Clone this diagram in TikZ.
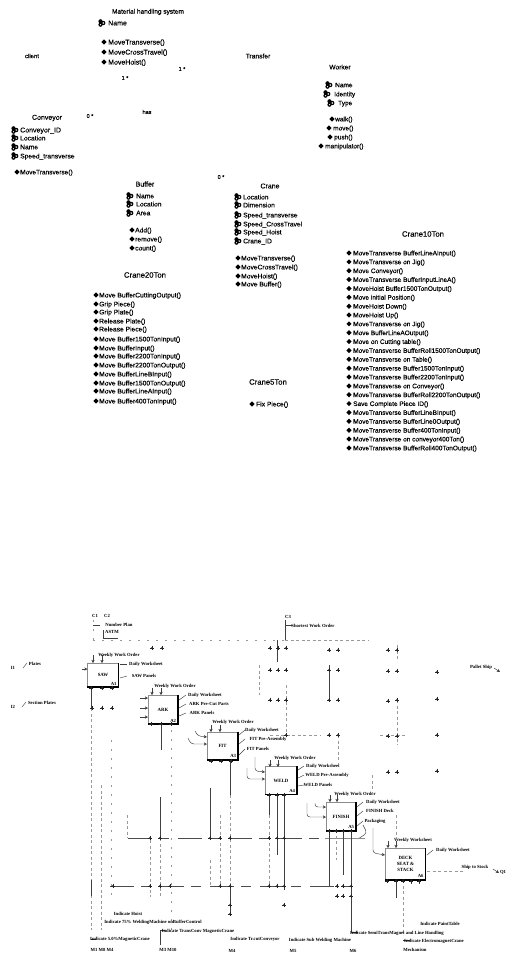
\documentclass[tikz,border=0pt]{standalone}
\usepackage{fontspec}
\setmainfont{Liberation Sans}[FakeBold=0.25]
\newfontfamily\idefont{Liberation Serif}
\usetikzlibrary{arrows.meta}
\newcounter{tcnt}
\newcommand{\umlsize}{\fontsize{7}{8}\selectfont}
\newcommand{\fsm}{\fontsize{6.5}{7}\selectfont}
\newcommand{\fmd}{\fontsize{6.7}{7}\selectfont}
\newcommand{\fti}{\fontsize{7}{8}\selectfont}
\newcommand{\fbg}{\fontsize{7.7}{8}\selectfont}
% text line of a class, left aligned
\newcommand{\ctext}[4][\umlsize]{\stepcounter{tcnt}\node[txt,font=#1] (t\thetcnt) at (#2,#3) {#4};}
% attribute: icon and text
\newcommand{\attr}[5][\umlsize]{\fill (#2-1.5,#4-1.7) circle (2.1);\fill (#2+1.2,#4) circle (2.2);
  \fill[white] (#2+1.2,#4) circle (.8);\fill (#2-1.5,#4+1.7) circle (2.1);\fill[white] (#2-1.5,#4+1.7) circle (.7);
  \ctext[#1]{#3}{#4}{#5}}
% method: diamond and text
\newcommand{\meth}[5][\umlsize]{\fill (#2-2.6,#4) -- (#2,#4-2.6) -- (#2+2.6,#4) -- (#2,#4+2.6) -- cycle;
  \ctext[#1]{#3}{#4}{#5}}
\newcommand{\ctitle}[4][\umlsize]{\stepcounter{tcnt}\node[font=#1,inner sep=0pt] (t\thetcnt) at (#2,#3) {#4};}
% IDEF0 label
\newcommand{\lab}[3]{\stepcounter{tcnt}\node[idf] (t\thetcnt) at (#1,#2) {#3};}
% connector between two named end points
\newcommand{\conn}[6][wire]{\stepcounter{tcnt}\coordinate (p\thetcnt) at (#2,#3);\coordinate (q\thetcnt) at (#4,#5);\draw[#1,#6] (p\thetcnt) -- (q\thetcnt);}
% rounded feed: down from one named point, across into another
\newcommand{\elbow}[6]{\stepcounter{tcnt}\coordinate (p\thetcnt) at (#1,#2);\coordinate (m\thetcnt) at (#3,#4);\coordinate (q\thetcnt) at (#5,#6);\draw[wire,tip,rounded corners=3pt] (p\thetcnt) -- (m\thetcnt) -- (q\thetcnt);}
\newcommand{\mk}[2]{\draw[black!85,line width=.45pt] (#1-1.8,#2) -- (#1+1.8,#2) (#1,#2-2.3) -- (#1,#2+2.3);\fill[black!85] (#1-1,#2-.7) -- (#1+1,#2-.7) -- (#1,#2+1.2) -- cycle;}
\tikzset{
  txt/.style={anchor=west,inner sep=0pt,text depth=0pt},
  idf/.style={inner sep=0pt,font=\idefont\bfseries\fontsize{4.7}{5}\selectfont},
  boxn/.style={inner sep=0pt,minimum width=32pt,minimum height=27pt,font=\idefont\bfseries\fontsize{4.8}{6}\selectfont,align=center},
  wire/.style={line width=.45pt,black!75},
  bus/.style={line width=.5pt,black!70,dash pattern=on 24pt off 7pt on 10pt off 9pt},
  faint/.style={line width=.5pt,black!40,dash pattern=on 3pt off 2.5pt},
  sparse/.style={line width=.5pt,black!40,dash pattern=on 2pt off 7pt},
  tip/.style={-{Stealth[length=3.2pt,width=3.2pt]}}
}
\begin{document}
\begin{tikzpicture}[x=1pt,y=-1pt]
\useasboundingbox (0,0) rectangle (507,953);
% ---- class diagram ----
\ctitle[\fsm]{148}{12}{Material handling system}
\attr{102}{108}{23}{Name}
\meth{104}{108}{42}{MoveTransverse()}
\meth{104}{108}{52}{MoveCrossTravel()}
\meth{104}{108}{62}{MoveHoist()}
\ctitle[\fontsize{5.5}{6}\selectfont]{182}{69}{1 *}
\ctitle[\fontsize{5.5}{6}\selectfont]{125}{78}{1 *}
\ctitle[\fontsize{6}{6}\selectfont]{32}{56}{client}
\ctitle[\fmd]{258}{56}{Transfer}
\ctitle[\fontsize{5.5}{6}\selectfont]{147}{112}{has}
\ctitle[\fontsize{5.5}{6}\selectfont]{90}{116}{0 *}
\ctitle[\fontsize{5.5}{6}\selectfont]{221}{177}{0 *}
\ctitle[\fti]{47}{118}{Conveyor}
\attr[\fontsize{7}{8}\selectfont]{15}{20}{130}{Conveyor\_ID}
\attr[\fmd]{15}{20}{138}{Location}
\attr[\fmd]{15}{20}{147}{Name}
\attr[\fmd]{15}{20}{156}{Speed\_transverse}
\meth[\fsm]{17}{20}{172}{MoveTransverse()}
\ctitle[\fmd]{340}{67}{Worker}
\attr[\fsm]{329}{335}{85}{Name}
\attr[\fsm]{327}{334}{94}{Identity}
\attr[\fsm]{331}{338}{103}{Type}
\meth[\fsm]{332}{335}{119}{walk()}
\meth[\fsm]{329}{333}{128}{move()}
\meth[\fsm]{330}{334}{137}{push()}
\meth[\fsm]{321}{325}{146}{manipulator()}
\ctitle[\fti]{145}{184}{Buffer}
\attr[\fmd]{130}{136}{196}{Name}
\attr[\fmd]{130}{136}{204}{Location}
\attr[\fmd]{130}{136}{213}{Area}
\meth[\fmd]{132}{135}{230}{Add()}
\meth[\fmd]{132}{135}{239}{remove()}
\meth[\fmd]{132}{135}{248}{count()}
\ctitle[\fti]{270}{186}{Crane}
\attr[\fmd]{238}{243}{197}{Location}
\attr[\fmd]{238}{243}{205}{Dimension}
\attr[\fmd]{238}{243}{215}{Speed\_transverse}
\attr[\fmd]{238}{243}{224}{Speed\_CrossTravel}
\attr[\fmd]{238}{243}{232}{Speed\_Hoist}
\attr[\fmd]{238}{243}{241}{Crane\_ID}
\meth[\fmd]{238}{241}{258}{MoveTransverse()}
\meth[\fmd]{238}{241}{267}{MoveCrossTravel()}
\meth[\fmd]{238}{241}{276}{MoveHoist()}
\meth[\fmd]{238}{241}{284}{Move Buffer()}
\ctitle[\fbg]{145}{275}{Crane20Ton}
\foreach \yy/\ltx in {295/Move BufferCuttingOutput(),304/Grip Piece(),312/Grip Plate(),321/Release Plate(),329/Release Piece(),339/Move Buffer1500TonInput(),348/Move BufferInput(),356/Move Buffer2200TonInput(),365/Move Buffer2200TonOutput(),374/Move BufferLineBInput(),383/Move Buffer1500TonOutput(),391/Move BufferLineAInput(),401/Move Buffer400TonInput()}{
  \meth[\fmd]{96}{99}{\yy}{\ltx}
}
\ctitle[\fbg]{268}{382}{Crane5Ton}
\meth[\fmd]{252}{256}{404}{Fix Piece()}
\ctitle[\fbg]{423}{234}{Crane10Ton}
\foreach \ii/\ltx in {0/MoveTransverse BufferLineAInput(),1/MoveTransverse on Jig(),2/Move Conveyor(),3/MoveTransverse BufferInputLineA(),4/MoveHoist Buffer1500TonOutput(),5/Move initial Position(),6/MoveHoist Down(),7/MoveHoist Up(),8/MoveTransverse on Jig(),9/Move BufferLineAOutput(),10/Move on Cutting table(),11/MoveTransverse BufferRoll1500TonOutput(),12/MoveTransverse on Table(),13/MoveTransverse Buffer1500TonInput(),14/MoveTransverse Buffer2200TonInput(),15/MoveTransverse on Conveyor(),16/MoveTransverse BufferRoll2200TonOutput(),17/Save Complete Piece ID(),18/MoveTransverse BufferLineBInput(),19/MoveTransverse BufferLine0Output(),20/MoveTransverse Buffer400TonInput(),21/MoveTransverse on conveyor400Ton(),22/MoveTransverse BufferRoll400TonOutput()}{
  \pgfmathsetmacro{\yy}{253+8.86*\ii}
  \meth[\fsm]{349}{353}{\yy}{\ltx}
}
% ---- activity boxes ----
\node[boxn,minimum width=31pt,minimum height=24pt] (a1) at (103,675) {SAW};
\node[boxn,minimum width=30pt,minimum height=29pt] (a2) at (163,709.5) {ARK};
\node[boxn,minimum width=31pt,minimum height=28pt] (a3) at (222.5,746) {FIT};
\node[boxn,minimum width=32pt,minimum height=28pt] (a4) at (281,780.5) {WELD};
\node[boxn,minimum width=30pt,minimum height=29pt] (a5) at (341,816.5) {FINISH};
\node[boxn,minimum width=40pt,minimum height=32pt] (a6) at (405.5,864) {DECK\\SEAT \&\\STACK};
\foreach \b/\n in {a1/A1,a2/A2,a3/A3,a4/A4,a5/A5,a6/A6}{
  \draw[line width=.4pt,black!45] (\b.south west) -- (\b.north west) -- (\b.north east);
  \draw[line width=1.5pt] (\b.north east) -- (\b.south east) -- (\b.south west);
  \node[idf,anchor=south east,xshift=-2pt,yshift=2pt] (l\b) at (\b.south east) {\n};
}
% control bus and feeds
\conn[sparse]{93}{640}{285}{640}{}
\conn[faint]{285}{640}{368}{640}{}
\conn[sparse]{93}{620}{93}{640}{}
\conn{93}{625}{100}{625}{}
\conn{103}{630}{103}{638}{}
\conn{103}{638}{118}{638}{}
\conn{285}{620}{285}{640}{}
\conn{285}{625}{292}{625}{}
\lab{95}{616}{C1}\lab{107}{616}{C2}\lab{288}{617}{C3}
\lab{119}{625}{Number Plan}\lab{112}{632}{ASTM}\lab{313}{626}{Shortest Work Order}
% inputs
\lab{13}{668}{I1}\lab{35}{664}{Plates}\lab{13}{707}{I2}\lab{42}{703}{Section Plates}
\conn{23}{668}{27}{663}{}
\conn{22}{707}{26}{702}{}
% box 1
\conn[wire,tip]{93}{655}{93}{663}{}\conn[wire,tip]{102}{655}{102}{663}{}
\lab{119}{655}{Weekly Work Order}
\conn[wire,tip]{82}{669}{87.5}{669}{}
\lab{146}{664}{Daily Worksheet}\lab{144}{676}{SAW Panels}
\conn{120}{664}{127}{664}{}\conn{120}{678}{127}{676}{}
% box 2
\conn[wire,tip]{152}{688}{152}{695}{}\conn[wire,tip]{161}{688}{161}{695}{}
\lab{175}{686}{Weekly Work Order}
\conn[wire,tip]{140}{698}{148}{698}{}\conn[wire,tip]{140}{708}{148}{708}{}\conn[wire,tip]{140}{717}{148}{717}{}
\lab{205}{695}{Daily Worksheet}\lab{209}{704}{ARK Pre-Cut Parts}\lab{202}{713}{ARK Panels}
\conn{179}{700}{186}{695}{}\conn{179}{708}{186}{704}{}\conn{179}{716}{186}{713}{}
% box 3
\conn[wire,tip]{211}{725}{211}{732}{}\conn[wire,tip]{220}{725}{220}{732}{}
\lab{233}{722}{Weekly Work Order}
\elbow{195}{731}{198}{736}{207}{737}
\elbow{188}{738}{191}{744}{207}{744}
\lab{262}{730}{Daily Worksheet}\lab{268}{739}{FIT Pre-Assembly}\lab{258}{749}{FIT Panels}
\conn{239}{735}{245}{730}{}\conn{239}{744}{245}{739}{}\conn{239}{755}{245}{749}{}
% box 4
\conn[wire,tip]{270}{760}{270}{767}{}\conn[wire,tip]{278}{760}{278}{767}{}
\lab{295}{758}{Weekly Work Order}
\elbow{255}{757}{255}{771}{265}{772}
\elbow{247}{768}{247}{779}{265}{779}
\lab{323}{766}{Daily Worksheet}\lab{327}{775}{WELD Pre-Assembly}\lab{318}{785}{WELD Panels}
\conn{298}{770}{304}{766}{}\conn{298}{778}{304}{775}{}\conn{298}{786}{304}{785}{}
% box 5
\conn[wire,tip]{330}{795}{330}{802}{}\conn[wire,tip]{337}{795}{337}{802}{}
\lab{355}{794}{Weekly Work Order}
\elbow{315}{803}{315}{807}{326}{807}
\elbow{307}{803}{307}{817}{326}{817}
\lab{383}{802}{Daily Worksheet}\lab{380}{811}{FINISH Deck}\lab{375}{821}{Packaging}
\conn{357}{807}{363}{802}{}\conn{357}{816}{363}{811}{}\conn{357}{826}{363}{821}{}
\coordinate (loopa) at (363,825);\coordinate (loopb) at (367,833);\coordinate (loopc) at (358,839);
\draw[wire,rounded corners=3pt] (loopa) -- (loopb) -- (loopc);
% box 6
\conn[wire,tip]{388}{841}{388}{848}{}\conn[wire,tip]{396}{841}{396}{848}{}
\lab{413}{840}{Weekly Worksheet}
\elbow{373}{828}{373}{853}{385}{855}
\lab{453}{850}{Daily Worksheet}\lab{475}{867}{Ship to Stock}\lab{503}{872}{Q1}
\conn{427}{855}{433}{850}{}
\conn[faint]{427}{871}{464}{871}{}
\conn[wire,tip]{493}{869}{499}{873}{}
\lab{481}{667}{Pallet Ship}
\conn[wire,tip]{494}{668}{500}{672}{}
% horizontal buses
\conn[bus]{128}{838}{325}{838}{}
\conn[wire,black!45,line width=.7pt]{325}{838}{365}{838}{}
\conn[bus]{110}{886}{351}{886}{}
\conn[faint]{270}{735}{320}{735}{}
\conn[faint]{380}{735}{405}{735}{}
% vertical lines
\conn[wire]{91}{688}{91}{708}{}
\conn[faint]{91}{708}{91}{930}{}
\conn[wire]{91}{880}{91}{896}{}
\conn[faint]{101}{785}{101}{930}{}
\conn[sparse]{111}{740}{111}{900}{}
\conn[faint]{127}{815}{127}{838}{}
\conn[wire]{161}{725}{161}{750}{}
\conn[wire]{160}{797}{160}{838}{}
\conn[faint]{160}{838}{160}{896}{}
\conn[faint]{150}{840}{150}{897}{}
\conn[sparse]{171}{730}{171}{935}{}
\conn[wire]{210}{788}{210}{838}{}
\conn[faint]{210}{860}{210}{886}{}
\conn[faint]{220}{815}{220}{886}{}
\conn[wire]{230}{760}{230}{795}{}
\conn[faint]{230}{795}{230}{886}{}
\conn[wire]{230}{886}{230}{915}{}
\conn[wire]{269}{794}{269}{815}{}
\conn[faint]{269}{815}{269}{886}{}
\conn[wire]{277}{794}{277}{855}{}
\conn[wire]{284}{794}{284}{890}{}
\conn[faint]{286}{685}{286}{735}{}
\conn[wire]{277}{640}{277}{662}{}
\conn[faint]{259}{665}{259}{695}{}
\conn[wire]{329}{665}{329}{700}{}
\conn[faint]{338}{735}{338}{765}{}
\conn[faint]{397}{645}{397}{660}{}
\conn[faint]{397}{700}{397}{745}{}
\conn[wire]{329}{830}{329}{886}{}
\conn[faint]{336}{830}{336}{860}{}
\conn[wire]{343}{830}{343}{875}{}
\conn[wire]{351}{830}{351}{932}{}
\conn[faint]{372}{775}{372}{795}{}
\conn[faint]{396}{815}{396}{840}{}
\conn[wire]{396}{880}{396}{898}{}
\conn[faint]{403}{880}{403}{935}{}
\conn[wire]{411}{880}{411}{884}{}
\conn[wire]{419}{880}{419}{884}{}
\conn[wire]{351}{932}{358}{932}{}
\conn[wire]{403}{940}{410}{940}{}
\conn[wire]{160}{930}{160}{945}{}
\conn[wire]{160}{930}{165}{930}{}
\conn[wire]{91}{939}{96}{939}{}
% tunnel marks
\foreach \x/\y in {270/648,278/648,286/648,329/650,338/650,388/650,397/650,
  152/648,162/648,
  270/670,278/670,286/670,329/670,338/670,388/671,397/671,437/672,
  92/708,102/708,112/708,
  270/700,278/700,286/700,329/700,338/700,388/701,397/700,437/699,
  329/735,338/735,286/735,388/736,397/736,437/735,
  388/772,397/772,437/771,
  150/838,160/838,210/838,220/838,230/838,269/838,277/838,284/838,
  113/886,150/886,160/886,170/886,220/886,230/886,269/886,277/886,284/886,
  337/886,343/886,351/886,
  337/896,343/896,351/896,284/905,230/905,230/914,
  91/688,102/688,112/688,151/724,161/724,171/724,211/761,221/761,231/761,
  269/795,277/795,284/795,329/831,336/831,343/831,351/831,
  387/881,396/881,403/881,411/881,419/881}{
  \mk{\x}{\y}
}
% bottom labels
\lab{128}{914}{Indicate Hoist}
\lab{153}{922}{Indicate 75\% WeldingMachine onBufferControl}
\lab{120}{939}{Indicate 5.0\%MagneticCrane}
\lab{102}{950}{M1 M8 M4}
\lab{198}{931}{Indicate TransConv MagneticCrane}
\lab{168}{950}{M3 M10}
\lab{255}{939}{Indicate Tr.cutConveyor}
\lab{232}{951}{M4}
\lab{320}{940}{Indicate Sub Welding Machine}
\lab{293}{951}{M5}
\lab{353}{951}{M6}
\lab{397}{933}{Indicate SemiTransMagnet and Line Handling}
\lab{440}{924}{Indicate PaintTable}
\lab{434}{941}{Indicate ElectromagnetCrane}
\lab{415}{950}{Mechanism}
\end{tikzpicture}
\end{document}
